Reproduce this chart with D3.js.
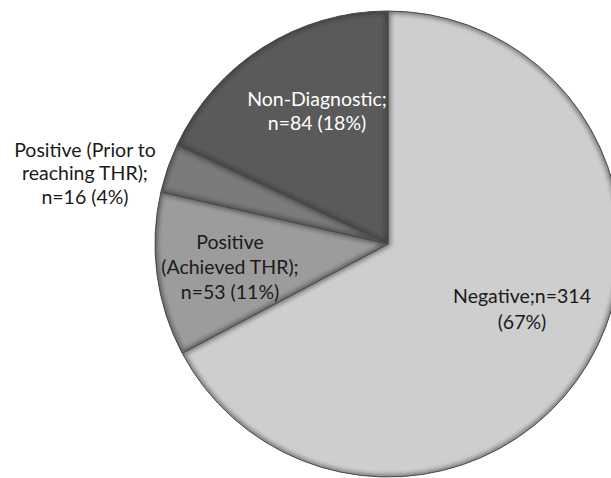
<!DOCTYPE html>
<html>
<head>
<meta charset="utf-8">
<script src="https://cdn.jsdelivr.net/npm/d3@7"></script>
<style>
  html, body { margin: 0; padding: 0; background: #fff; }
  svg { display: block; }
  text { font-family: Lato, "Open Sans", sans-serif; font-size: 19.5px; }
</style>
</head>
<body>
<svg id="chart" width="611" height="478"></svg>
<script>
// Test outcomes (counts), drawn clockwise from 12 o'clock
const categories = ["Negative", "Positive (Achieved THR)", "Positive (Prior to reaching THR)", "Non-Diagnostic"];
const counts = [314, 53, 16, 84];
const percents = [67, 11, 4, 18];
const labelLines = [
  ["Negative;n=314", "(67%)"],
  ["Positive", "(Achieved THR);", "n=53 (11%)"],
  ["Positive (Prior to", "reaching THR);", "n=16 (4%)"],
  ["Non-Diagnostic;", "n=84 (18%)"]
];
const fills = ["#cecece", "#9c9c9c", "#7b7b7b", "#5a5a5a"];
const textColors = ["#1a1a1a", "#1a1a1a", "#1a1a1a", "#ffffff"];

// Label anchors (centre of first text line), in chart pixels
const labelPos = [
  { x: 522, y: 296 },
  { x: 230, y: 242 },
  { x: 85,  y: 150 },
  { x: 317, y: 99 }
];
const lineGap = [26, 25, 23.5, 24];

const width = 611, height = 478;
const cx = 388, cy = 244, radius = 233;

const svg = d3.select("#chart");
const defs = svg.append("defs");
defs.append("filter").attr("id", "soft")
  .attr("x", "-20%").attr("y", "-20%").attr("width", "140%").attr("height", "140%")
  .append("feGaussianBlur").attr("stdDeviation", 2.2);

const pie = d3.pie().sort(null).value(d => d)(counts);
const arc = d3.arc().innerRadius(0).outerRadius(radius);

const g = svg.append("g").attr("transform", `translate(${cx},${cy})`);

const slices = g.selectAll("g.slice").data(pie).join("g").attr("class", "slice");

slices.each(function (d, i) {
  defs.append("clipPath").attr("id", "clip" + i)
    .append("path").attr("d", arc(d));
});

slices.append("path")
  .attr("d", arc)
  .attr("fill", (d, i) => fills[i]);

// bevel-like inner shading along each slice edge
slices.append("path")
  .attr("d", arc)
  .attr("clip-path", (d, i) => `url(#clip${i})`)
  .attr("fill", "none")
  .attr("stroke", "#2a2a2a")
  .attr("stroke-width", 5)
  .attr("stroke-opacity", 0.55)
  .attr("filter", "url(#soft)");

slices.append("path")
  .attr("d", arc)
  .attr("fill", "none")
  .attr("stroke", "#4a4a4a")
  .attr("stroke-width", 1);

// Labels
const labels = svg.selectAll("text.lbl").data(labelLines).join("text")
  .attr("class", "lbl")
  .attr("text-anchor", "middle")
  .attr("fill", (d, i) => textColors[i]);

labels.each(function (lines, i) {
  const t = d3.select(this);
  lines.forEach((ln, k) => {
    t.append("tspan")
      .attr("x", labelPos[i].x)
      .attr("y", labelPos[i].y + k * lineGap[i])
      .attr("dy", "0.35em")
      .text(ln);
  });
});
</script>
</body>
</html>
